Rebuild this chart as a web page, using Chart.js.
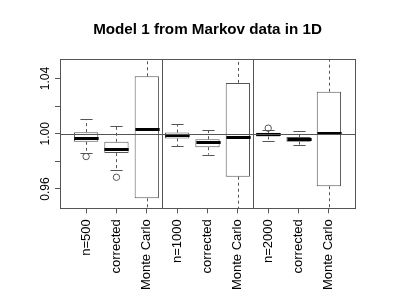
<!DOCTYPE html>
<html>
<head>
<meta charset="utf-8">
<script src="https://cdn.jsdelivr.net/npm/chart.js@4"></script>
<style>
  html, body { margin: 0; padding: 0; background: #fff; }
</style>
</head>
<body>
<canvas id="boxChart" width="415" height="293"></canvas>
<script>
// boxplot summaries
const categories = ["n=500", "corrected", "Monte Carlo", "n=1000", "corrected", "Monte Carlo", "n=2000", "corrected", "Monte Carlo"];
const lowerWhisker = [0.9864, 0.9738, 0.905, 0.9908, 0.9849, 0.905, 0.9951, 0.9922, 0.905];
const q1 = [0.9942, 0.9860, 0.9532, 0.9966, 0.9903, 0.9689, 0.9980, 0.9942, 0.9620];
const medians = [0.9969, 0.9891, 1.0036, 0.9991, 0.9937, 0.9980, 0.9998, 0.9961, 1.0005];
const q3 = [1.0012, 0.9942, 1.0417, 1.0009, 0.9961, 1.0369, 1.0007, 0.9976, 1.0305];
const upperWhisker = [1.0107, 1.0053, 1.095, 1.0068, 1.0031, 1.095, 1.0024, 1.0017, 1.095];
const outlierPos = [1, 2, 7];
const outlierVals = [0.9835, 0.9685, 1.0041];
const yTicks = [0.96, 0.98, 1.00, 1.02, 1.04];
const yTickLabels = ["0.96", "", "1.00", "", "1.04"];
const groupBreaks = [3.5, 6.5];
const refLine = 1.00;
const chartTitle = "Model 1 from Markov data in 1D";

const FONT = "'Liberation Sans', Arial, Helvetica, sans-serif";
const LINE = "#555";

const boxExtras = {
  id: "boxExtras",
  afterDatasetsDraw(chart) {
    const ctx = chart.ctx;
    const xs = chart.scales.x, ys = chart.scales.y, a = chart.chartArea;
    const bars = chart.getDatasetMeta(0).data;
    ctx.save();
    ctx.beginPath();
    ctx.rect(a.left, a.top, a.right - a.left, a.bottom - a.top);
    ctx.clip();

    categories.forEach((c, i) => {
      const cx = Math.round(xs.getPixelForValue(i + 1)) + 0.5;
      const w = bars[i].width;
      const yUw = ys.getPixelForValue(upperWhisker[i]);
      const yQ3 = ys.getPixelForValue(q3[i]);
      const yQ1 = ys.getPixelForValue(q1[i]);
      const yLw = ys.getPixelForValue(lowerWhisker[i]);
      const yMed = ys.getPixelForValue(medians[i]);

      // dashed whiskers
      ctx.strokeStyle = LINE;
      ctx.lineWidth = 1;
      ctx.setLineDash([3, 3]);
      ctx.beginPath();
      ctx.moveTo(cx, yQ3); ctx.lineTo(cx, yUw);
      ctx.moveTo(cx, yQ1); ctx.lineTo(cx, yLw);
      ctx.stroke();
      ctx.setLineDash([]);

      // staples
      ctx.beginPath();
      ctx.moveTo(cx - w / 4, Math.round(yUw) + 0.5); ctx.lineTo(cx + w / 4, Math.round(yUw) + 0.5);
      ctx.moveTo(cx - w / 4, Math.round(yLw) + 0.5); ctx.lineTo(cx + w / 4, Math.round(yLw) + 0.5);
      ctx.stroke();

      // median
      ctx.strokeStyle = "#000";
      ctx.lineWidth = 3;
      ctx.beginPath();
      ctx.moveTo(cx - w / 2, Math.round(yMed) + 0.5);
      ctx.lineTo(cx + w / 2, Math.round(yMed) + 0.5);
      ctx.stroke();
    });

    // reference line and group separators
    ctx.strokeStyle = LINE;
    ctx.lineWidth = 1;
    ctx.beginPath();
    const yRef = Math.round(ys.getPixelForValue(refLine)) + 0.5;
    ctx.moveTo(a.left, yRef); ctx.lineTo(a.right, yRef);
    groupBreaks.forEach(g => {
      const gx = Math.round(xs.getPixelForValue(g)) + 0.5;
      ctx.moveTo(gx, a.top); ctx.lineTo(gx, a.bottom);
    });
    ctx.stroke();
    ctx.restore();

    // frame
    ctx.save();
    ctx.strokeStyle = LINE;
    ctx.lineWidth = 1;
    ctx.strokeRect(Math.round(a.left) + 0.5, Math.round(a.top) + 0.5,
      Math.round(a.right - a.left), Math.round(a.bottom - a.top));
    ctx.restore();
  },
  afterDraw(chart) {
    const ctx = chart.ctx, ys = chart.scales.y;
    ctx.save();
    ctx.fillStyle = "#000";
    ctx.textAlign = "center";
    ctx.textBaseline = "middle";

    // title centred on the whole figure
    ctx.font = "bold 15.2px " + FONT;
    ctx.fillText(chartTitle, chart.width / 2, 30);

    // y labels run along the axis like in R
    ctx.font = "12px " + FONT;
    yTicks.forEach((v, i) => {
      if (!yTickLabels[i]) return;
      ctx.save();
      ctx.translate(46, ys.getPixelForValue(v));
      ctx.rotate(-Math.PI / 2);
      ctx.fillText(yTickLabels[i], 0, 0);
      ctx.restore();
    });
    ctx.restore();
  }
};

new Chart(document.getElementById("boxChart"), {
  type: "bar",
  data: {
    datasets: [
      {
        type: "bar",
        data: categories.map((c, i) => ({ x: i + 1, y: [q1[i], q3[i]] })),
        backgroundColor: "#fff",
        borderColor: LINE,
        borderWidth: 1,
        borderSkipped: false,
        barPercentage: 0.8,
        categoryPercentage: 1,
      },
      {
        type: "scatter",
        data: outlierPos.map((p, i) => ({ x: p, y: outlierVals[i] })),
        pointStyle: "circle",
        pointRadius: 3.2,
        pointBorderWidth: 1,
        pointBorderColor: LINE,
        pointBackgroundColor: "rgba(0,0,0,0)",
      },
    ],
  },
  options: {
    responsive: false,
    animation: false,
    layout: { padding: { left: 0, right: 60, top: 59.3, bottom: 0 } },
    plugins: {
      legend: { display: false },
      tooltip: { enabled: false },
      title: { display: false },
    },
    scales: {
      x: {
        type: "linear",
        min: 0.14,
        max: 9.86,
        offset: false,
        afterBuildTicks: (s) => { s.ticks = categories.map((c, i) => ({ value: i + 1 })); },
        afterFit: (s) => { s.height = 84.7; },
        grid: { offset: false, drawOnChartArea: false, drawTicks: true, tickLength: 5, color: LINE },
        border: { display: false },
        ticks: {
          autoSkip: false,
          minRotation: 90,
          maxRotation: 90,
          padding: 6,
          color: "#000",
          font: { family: FONT, size: 13 },
          callback: (v) => categories[Math.round(v) - 1],
        },
      },
      y: {
        min: 0.946,
        max: 1.054,
        afterBuildTicks: (s) => { s.ticks = yTicks.map((v) => ({ value: v })); },
        afterFit: (s) => { s.width = 60; },
        grid: { drawOnChartArea: false, drawTicks: true, tickLength: 5, color: LINE },
        border: { display: false },
        ticks: { callback: () => "", padding: 0 },
      },
    },
  },
  plugins: [boxExtras],
});
</script>
</body>
</html>
